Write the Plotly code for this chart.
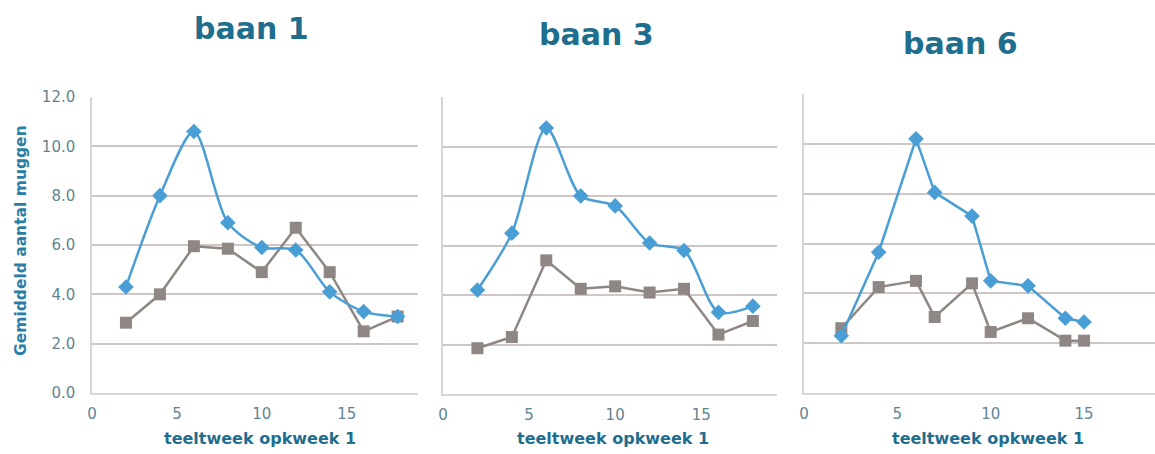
import plotly.graph_objects as go

# ---- data ----
titles = ["baan 1", "baan 3", "baan 6"]

weeks_1 = [2, 4, 6, 8, 10, 12, 14, 16, 18]
blue_1 = [4.3, 8.0, 10.6, 6.9, 5.9, 5.8, 4.1, 3.3, 3.1]
grey_1 = [2.85, 4.0, 5.95, 5.85, 4.9, 6.7, 4.9, 2.5, 3.1]

weeks_3 = [2, 4, 6, 8, 10, 12, 14, 16, 18]
blue_3 = [4.2, 6.5, 10.75, 8.0, 7.6, 6.1, 5.8, 3.3, 3.55]
grey_3 = [1.85, 2.3, 5.4, 4.25, 4.35, 4.1, 4.25, 2.4, 2.95]

weeks_6 = [2, 4, 6, 7, 9, 10, 12, 14, 15]
blue_6 = [2.3, 5.65, 10.2, 8.05, 7.1, 4.5, 4.3, 3.0, 2.85]
grey_6 = [2.6, 4.25, 4.5, 3.05, 4.4, 2.45, 3.0, 2.1, 2.1]

y_ticks = [0, 2, 4, 6, 8, 10, 12]
x_ticks = [0, 5, 10, 15]
y_title = "Gemiddeld aantal muggen"
x_title = "teeltweek opkweek 1"

BLUE = "#4a9ed6"
GREY = "#8f8783"
TEAL = "#1f6e8e"
TICK = "#5f8594"
GRID = "#d0c6c4"

W, H = 1155, 454
def px(x):
    return x / W
def py(y):
    return 1 - y / H

panels = [
    dict(x0=92, x1=418, top=97, bottom=393, xr=19.2, w=weeks_1, b=blue_1, g=grey_1, bshape="spline"),
    dict(x0=443, x1=777, top=97, bottom=394, xr=19.4, w=weeks_3, b=blue_3, g=grey_3, bshape="spline"),
    dict(x0=804, x1=1155, top=94, bottom=393, xr=18.8, w=weeks_6, b=blue_6, g=grey_6, bshape="linear"),
]

fig = go.Figure()
layout = dict(
    width=W, height=H,
    margin=dict(l=0, r=0, t=0, b=0),
    paper_bgcolor="white", plot_bgcolor="white",
    showlegend=False,
    font=dict(family="DejaVu Sans", color=TICK),
)

title_pos = [(251, 28), (596, 34), (960, 44)]
xt_pos = [260, 613, 988]
annotations = []

for i, p in enumerate(panels):
    n = "" if i == 0 else str(i + 1)
    xa = "x" + n
    ya = "y" + n
    fig.add_trace(go.Scatter(
        x=p["w"], y=p["g"], mode="lines+markers", xaxis=xa, yaxis=ya,
        line=dict(color=GREY, width=2.5, shape="linear"),
        marker=dict(symbol="square", size=12, color=GREY),
    ))
    fig.add_trace(go.Scatter(
        x=p["w"], y=p["b"], mode="lines+markers", xaxis=xa, yaxis=ya,
        line=dict(color=BLUE, width=2.5, shape=p["bshape"], smoothing=0.8),
        marker=dict(symbol="diamond", size=12, color=BLUE),
    ))
    layout["xaxis" + n] = dict(
        domain=[px(p["x0"]), min(1.0, px(p["x1"]))],
        anchor=ya, range=[0, p["xr"]], tickvals=x_ticks,
        showgrid=False, zeroline=False, showline=True,
        linecolor="#d6d6d6", linewidth=1.5, automargin=False,
        tickfont=dict(size=15, color=TICK), ticks="", ticklabelstandoff=6,
    )
    layout["yaxis" + n] = dict(
        domain=[py(p["bottom"]), py(p["top"])],
        anchor=xa, range=[0, 12], tickvals=y_ticks,
        ticktext=[f"{v:.1f}" for v in y_ticks],
        showticklabels=(i == 0), automargin=False,
        showgrid=True, gridcolor=GRID, gridwidth=1.8,
        zeroline=False, showline=True, linecolor="#d6d6d6", linewidth=1.5,
        tickfont=dict(size=15, color=TICK), ticks="", ticklabelstandoff=12,
    )
    tx, ty = title_pos[i]
    annotations.append(dict(
        text=titles[i], x=px(tx), y=py(ty), xref="paper", yref="paper",
        showarrow=False, xanchor="center", yanchor="middle",
        font=dict(family="DejaVu Sans", size=30, color=TEAL, weight="bold"),
    ))
    annotations.append(dict(
        text=x_title, x=px(xt_pos[i]), y=py(438), xref="paper", yref="paper",
        showarrow=False, xanchor="center", yanchor="middle",
        font=dict(family="DejaVu Sans", size=16, color=TEAL, weight="bold"),
    ))

annotations.append(dict(
    text=y_title, x=px(21), y=py(241), xref="paper", yref="paper",
    showarrow=False, xanchor="center", yanchor="middle", textangle=-90,
    font=dict(family="DejaVu Sans", size=15.5, color="#2a7ea5", weight="bold"),
))
layout["annotations"] = annotations
fig.update_layout(**layout)
fig.write_html(
    "out.html",
    config={"displayModeBar": False},
    post_script="document.body.style.margin='0';document.body.style.overflow='hidden';",
)
